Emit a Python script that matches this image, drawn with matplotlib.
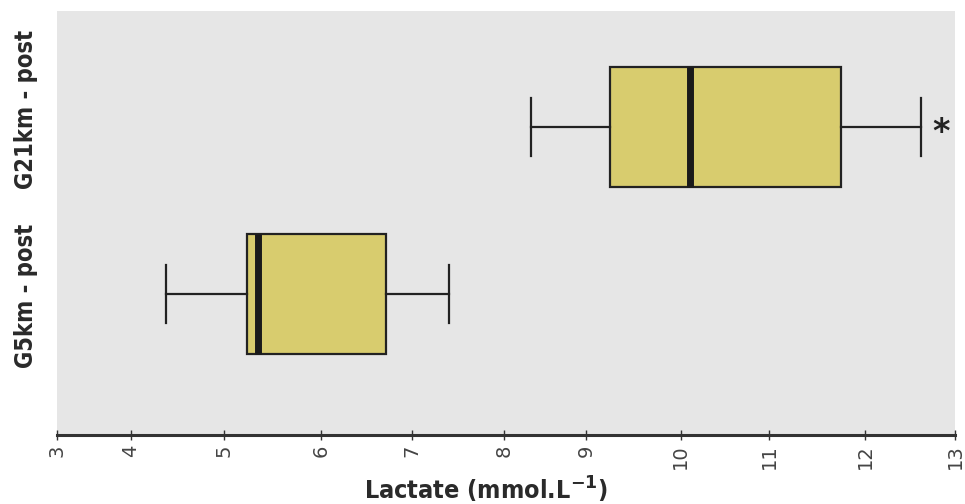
import numpy as np
import matplotlib
matplotlib.use("Agg")
import matplotlib.pyplot as plt

# -- data --
groups = ["G5km - post", "G21km - post"]
whisker_low = [4.38, 8.33]
q1 = [5.24, 9.25]
median = [5.35, 10.11]
q3 = [6.72, 11.75]
whisker_high = [7.40, 12.62]
signif = ["", "*"]

tick_vals = [3, 4, 5, 6, 7, 8, 9, 10, 11, 12, 13]
# the original axis is hand drawn, ticks are not evenly spaced
tick_pos = [56.6, 130.5, 222.8, 320, 410.5, 502.8, 584.6, 678.8, 767.4, 862.8, 952.6]

def fwd(x):
    return np.interp(x, tick_vals, tick_pos)

def inv(p):
    return np.interp(p, tick_pos, tick_vals)

fig = plt.figure(figsize=(9.65, 5.04), dpi=100)
ax = fig.add_axes([0.059, 0.137, 0.9306, 0.841])
ax.set_facecolor("#e6e6e6")
ax.set_xscale("function", functions=(fwd, inv))

positions = [1, 2]
stats = []
for i in range(len(groups)):
    stats.append({"label": groups[i], "whislo": whisker_low[i], "q1": q1[i],
                  "med": median[i], "q3": q3[i], "whishi": whisker_high[i]})

ax.bxp(stats, positions=positions, vert=False, widths=0.72, capwidths=0.35,
       showfliers=False, patch_artist=True,
       boxprops=dict(facecolor="#d8cc6e", edgecolor="#222222", linewidth=1.6),
       medianprops=dict(color="#1a1a1a", linewidth=5),
       whiskerprops=dict(color="#222222", linewidth=1.6),
       capprops=dict(color="#222222", linewidth=1.6))

for i, s in enumerate(signif):
    if s:
        ax.text(whisker_high[i] + 0.13, positions[i] - 0.03, s, ha="left", va="center",
                fontsize=24, fontweight="bold", color="#222222")

ax.set_xlim(3, 13)
ax.set_ylim(0.156, 2.695)
ax.set_xticks(tick_vals)
ax.set_xticklabels([str(t) for t in tick_vals], rotation=90, fontsize=14,
                   color="#444444")

# group labels, drawn by hand since they sit a bit above their boxes
ax.set_yticks([])
for pos, name, dy in zip(positions, groups, [-0.012, 0.108]):
    ax.text(-0.034, pos + dy, name, transform=ax.get_yaxis_transform(),
            rotation=90, ha="center", va="center", fontsize=17,
            fontweight="bold", color="#2a2a2a", fontstretch="condensed")

ax.tick_params(axis="x", direction="inout", length=7, width=1, color="#333333")

for side in ["top", "right", "left"]:
    ax.spines[side].set_visible(False)
ax.spines["bottom"].set_linewidth(2.2)
ax.spines["bottom"].set_color("#333333")

ax.set_xlabel("Lactate (mmol.L$^{\\mathbf{-1}}$)", fontsize=18, fontweight="bold",
              color="#2a2a2a", fontstretch="condensed")
ax.xaxis.set_label_coords(0.478, -0.13)
ax.xaxis.label.set_va("center")

fig.savefig("out.png", dpi=100)
